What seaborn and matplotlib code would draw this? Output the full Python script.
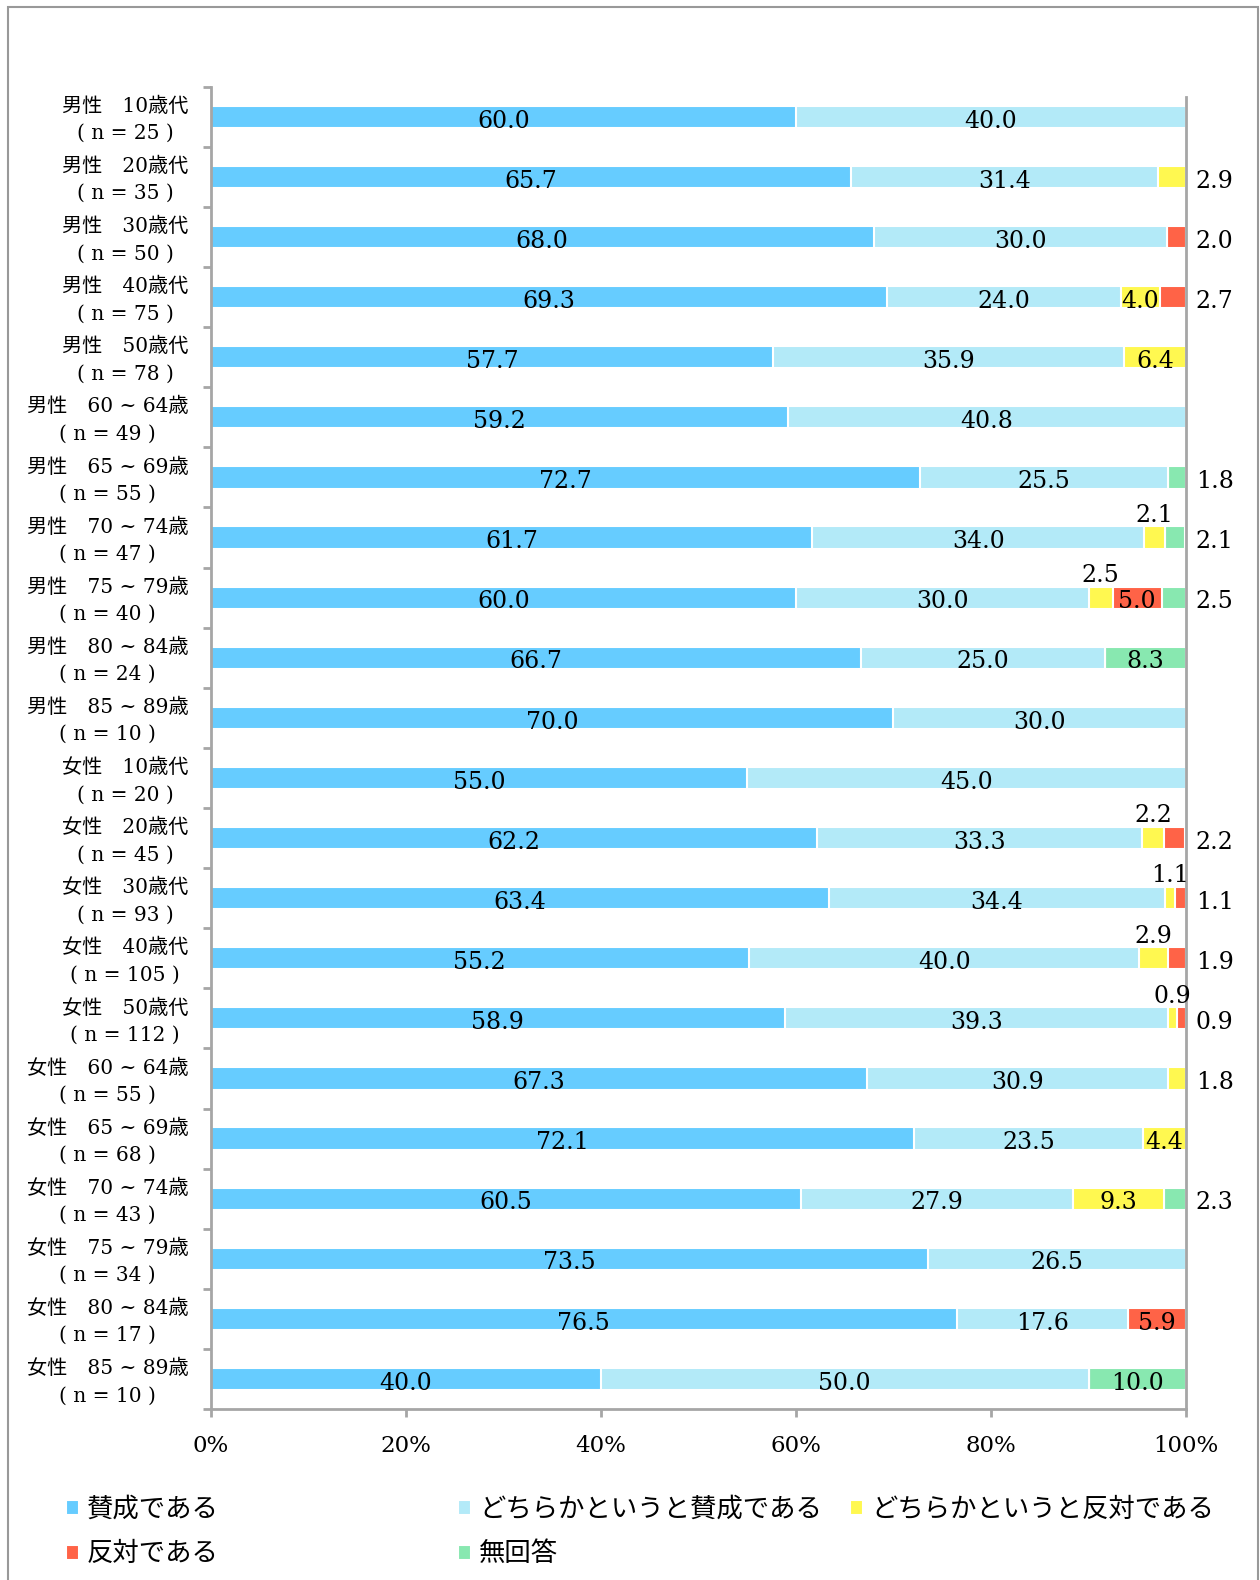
import numpy as np
import pandas as pd
import matplotlib
matplotlib.use('Agg')
import matplotlib.pyplot as plt
import matplotlib.transforms as mtransforms
from matplotlib.patches import Rectangle
import seaborn as sns

sns.set_style('white')
plt.rcParams['font.family'] = ['DejaVu Serif', 'Noto Sans CJK JP']
plt.rcParams['text.color'] = 'black'
plt.rcParams['xtick.labelcolor'] = 'black'
plt.rcParams['ytick.labelcolor'] = 'black'

# data
groups = ['男性　10歳代', '男性　20歳代', '男性　30歳代', '男性　40歳代', '男性　50歳代',
          '男性　60 ~ 64歳', '男性　65 ~ 69歳', '男性　70 ~ 74歳', '男性　75 ~ 79歳',
          '男性　80 ~ 84歳', '男性　85 ~ 89歳',
          '女性　10歳代', '女性　20歳代', '女性　30歳代', '女性　40歳代', '女性　50歳代',
          '女性　60 ~ 64歳', '女性　65 ~ 69歳', '女性　70 ~ 74歳', '女性　75 ~ 79歳',
          '女性　80 ~ 84歳', '女性　85 ~ 89歳']
n_values = [25, 35, 50, 75, 78, 49, 55, 47, 40, 24, 10,
            20, 45, 93, 105, 112, 55, 68, 43, 34, 17, 10]

series = ['賛成である', 'どちらかというと賛成である', 'どちらかというと反対である', '反対である', '無回答']
agree = [60.0, 65.7, 68.0, 69.3, 57.7, 59.2, 72.7, 61.7, 60.0, 66.7, 70.0,
         55.0, 62.2, 63.4, 55.2, 58.9, 67.3, 72.1, 60.5, 73.5, 76.5, 40.0]
rather_agree = [40.0, 31.4, 30.0, 24.0, 35.9, 40.8, 25.5, 34.0, 30.0, 25.0, 30.0,
                45.0, 33.3, 34.4, 40.0, 39.3, 30.9, 23.5, 27.9, 26.5, 17.6, 50.0]
rather_oppose = [0, 2.9, 0, 4.0, 6.4, 0, 0, 2.1, 2.5, 0, 0,
                 0, 2.2, 1.1, 2.9, 0.9, 1.8, 4.4, 9.3, 0, 0, 0]
oppose = [0, 0, 2.0, 2.7, 0, 0, 0, 0, 5.0, 0, 0,
          0, 2.2, 1.1, 1.9, 0.9, 0, 0, 0, 0, 5.9, 0]
no_answer = [0, 0, 0, 0, 0, 0, 1.8, 2.1, 2.5, 8.3, 0,
             0, 0, 0, 0, 0, 0, 0, 2.3, 0, 0, 10.0]

colors = ['#66CCFF', '#B3EAF8', '#FFF850', '#FF6347', '#88E8B0']
gray = '#A6A6A6'

labels = [f'{g}\n( n = {n} )' for g, n in zip(groups, n_values)]
vals = np.array([agree, rather_agree, rather_oppose, oppose, no_answer])
cum = np.cumsum(vals, axis=0)

df = pd.DataFrame({'label': labels})
for j, s in enumerate(series):
    df[s] = cum[j]

fig = plt.figure(figsize=(12.6, 15.8), dpi=100)
ax = fig.add_axes([0.1672, 0.1082, 0.7741, 0.8369])

# stacked bars: draw cumulative totals from the back
for j in reversed(range(len(series))):
    sns.barplot(data=df, x=series[j], y='label', orient='h', color=colors[j],
                width=0.37, errorbar=None, edgecolor='white', linewidth=1.5,
                saturation=1, ax=ax, label=series[j])
if ax.get_legend() is not None:
    ax.get_legend().remove()

ax.set_xlim(0, 100)
ax.set_ylim(len(labels) - 0.5, -0.5)
ax.set_xlabel('')
ax.set_ylabel('')

# value labels
dy = 0.07
for i in range(len(labels)):
    nz = [j for j in range(len(series)) if vals[j, i] > 0]
    last = nz[-1]
    for j in nz:
        v = vals[j, i]
        left = cum[j, i] - v
        txt = f'{v:.1f}'
        if v >= 4:
            ax.text(left + v / 2, i + dy, txt, ha='center', va='center', fontsize=17)
        elif j == last:
            ax.text(101, i + dy, txt, ha='left', va='center', fontsize=17, clip_on=False)
        else:
            ax.text(left + v / 2, i - 0.37, txt, ha='center', va='center',
                    fontsize=17, clip_on=False)

# axes styling
for side in ['left', 'bottom', 'right']:
    ax.spines[side].set_color(gray)
    ax.spines[side].set_linewidth(2)
ax.spines['top'].set_visible(False)
ax.spines['right'].set_bounds(len(labels) - 0.5, -0.33)

ax.set_xticks(np.arange(0, 101, 20))
ax.set_xticklabels([f'{t}%' for t in range(0, 101, 20)], fontsize=16.5)
ax.tick_params(axis='x', direction='out', length=6, width=2, color=gray, pad=13, bottom=True)

ax.set_yticks(np.arange(len(labels)))
ax.set_yticklabels(labels, fontsize=14.5, multialignment='center', linespacing=1.55)
ax.set_yticks(np.arange(-0.5, len(labels)), minor=True)
ax.tick_params(axis='y', which='major', length=0, pad=16)
ax.tick_params(axis='y', which='minor', direction='out', length=6, width=2, color=gray, left=True)
shift = mtransforms.ScaledTranslation(0, 3 / 100, fig.dpi_scale_trans)
for t in ax.get_yticklabels():
    t.set_transform(t.get_transform() + shift)

# legend in three columns
hmap = {c.get_label(): c for c in ax.containers}
cols = [[0, 3], [1, 4], [2]]
xs = [0.0524, 0.3635, 0.6746]
for cidx, x in zip(cols, xs):
    fig.legend([hmap[series[k]] for k in cidx], [series[k] for k in cidx],
               loc='upper left', bbox_to_anchor=(x, 0.0535), frameon=False,
               prop={'family': ['Noto Sans CJK JP'], 'size': 19},
               handlelength=0.5, handleheight=0.5, handletextpad=0.3,
               labelspacing=0.68, borderpad=0, borderaxespad=0)

fig.add_artist(Rectangle((0.0063, -0.01), 0.9921, 1.0056, transform=fig.transFigure,
                         fill=False, edgecolor='#999999', linewidth=1.5))

fig.savefig('out.png', dpi=100)
